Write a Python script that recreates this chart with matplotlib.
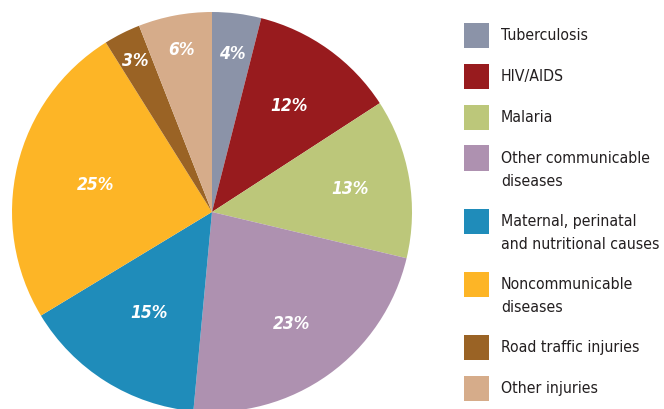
import numpy as np
import matplotlib
matplotlib.use("Agg")
import matplotlib.pyplot as plt
from matplotlib.patches import Rectangle

causes = [
    "Tuberculosis",
    "HIV/AIDS",
    "Malaria",
    "Other communicable\ndiseases",
    "Maternal, perinatal\nand nutritional causes",
    "Noncommunicable\ndiseases",
    "Road traffic injuries",
    "Other injuries",
]
shares = [4, 12, 13, 23, 15, 25, 3, 6]
colors = ["#8b93a8", "#981b1e", "#bcc77a", "#ae91b0",
          "#1f8cba", "#fdb526", "#9a6325", "#d6ac8a"]

# radial position of each percentage label (fraction of radius)
label_r = [0.80, 0.66, 0.70, 0.68, 0.59, 0.60, 0.85, 0.83]

FONT = dict(family="DejaVu Sans", stretch="condensed")

W, H = 664, 410
fig = plt.figure(figsize=(W / 100, H / 100), dpi=100)
fig.patch.set_facecolor("white")
renderer = fig.canvas.get_renderer()

# pie: centre (212, 213) px, radius 200 px
cx, cy, r = 212, 213, 200
ax = fig.add_axes([(cx - r) / W, (H - cy - r) / H, 2 * r / W, 2 * r / H])
wedges, _ = ax.pie(shares, colors=colors, startangle=90, counterclock=False,
                   radius=1, wedgeprops=dict(linewidth=0))
ax.set_xlim(-1, 1)
ax.set_ylim(-1, 1)
ax.set_aspect("equal")
ax.set_axis_off()

for w, val, lr in zip(wedges, shares, label_r):
    mid = np.deg2rad((w.theta1 + w.theta2) / 2)
    ax.text(lr * np.cos(mid), lr * np.sin(mid), f"{val}%",
            ha="center", va="center", color="white", fontsize=12.5,
            fontweight="bold", fontstyle="italic", **FONT)

# legend, drawn by hand so each square lines up with the first text line
texts = []
y = 36
for name, c in zip(causes, colors):
    fig.patches.append(Rectangle((464 / W, 1 - (y + 12.5) / H), 25 / W, 25 / H,
                                 transform=fig.transFigure, facecolor=c,
                                 edgecolor="none"))
    texts.append(fig.text(501 / W, 1 - (y - 8) / H, name, ha="left", va="top",
                          fontsize=12, color="#231f20", linespacing=1.7,
                          **FONT))
    y += 41 + 22 * name.count("\n")

# widest legend line should end near x = 660 px
widest = max(t.get_window_extent(renderer).width for t in texts)
size = min(12.5, 12 * 158 / widest)
for t in texts:
    t.set_fontsize(size)

fig.savefig("out.png", dpi=100)
